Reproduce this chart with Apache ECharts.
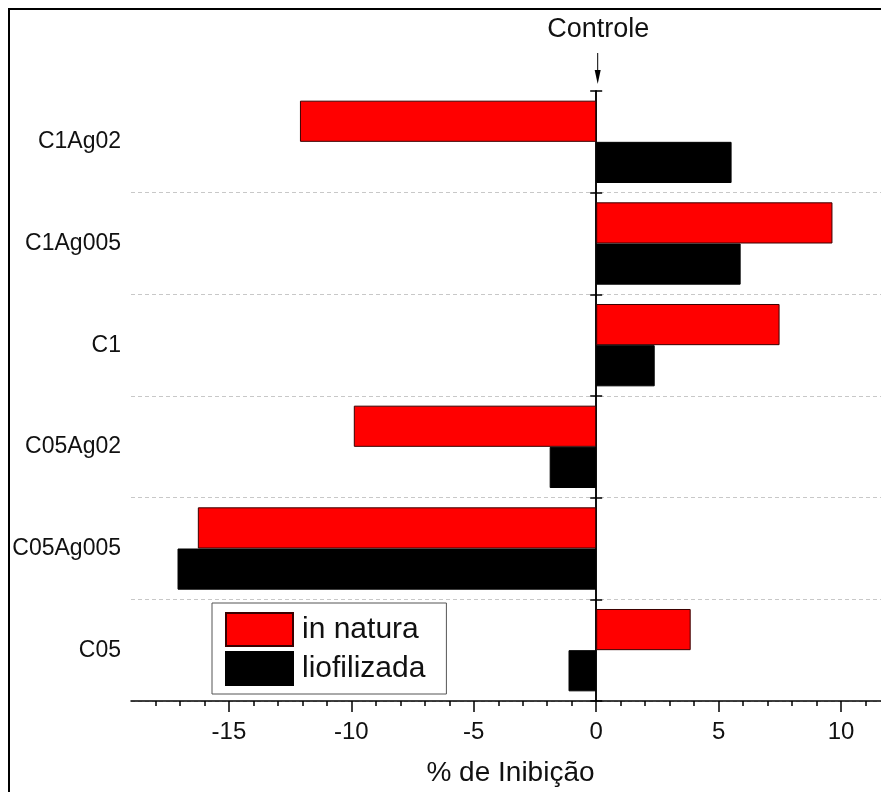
<!DOCTYPE html>
<html>
<head>
<meta charset="utf-8">
<script src="https://cdn.jsdelivr.net/npm/echarts@6/dist/echarts.min.js"></script>
<style>
  html, body { margin: 0; padding: 0; background: #fff; }
  #chart { width: 881px; height: 792px; }
</style>
</head>
<body>
<div id="chart"></div>
<script>
// categories bottom -> top (category axis grows upward)
const categories = ["C05", "C05Ag005", "C05Ag02", "C1", "C1Ag005", "C1Ag02"];
const inNatura = [3.86, -16.27, -9.9, 7.49, 9.65, -12.1];
const liofilizada = [-1.13, -17.1, -1.9, 2.39, 5.9, 5.53];
const majorTicks = [-15, -10, -5, 0, 5, 10];
const minorTicks = [-18, -17, -16, -14, -13, -12, -11, -9, -8, -7, -6, -4, -3, -2, -1, 1, 2, 3, 4, 6, 7, 8, 9, 11];

const font = "'Liberation Sans', Arial, sans-serif";
const chart = echarts.init(document.getElementById("chart"));

// category axis drawn on x = 0, ticks crossing the line on both sides
const zeroAxis = (inside, xIndex) => ({
  type: "category",
  data: categories,
  position: "left",
  axisLine: { show: true, onZero: true, onZeroAxisIndex: xIndex, lineStyle: { color: "#000", width: 1.5 } },
  axisTick: { show: true, inside, length: 6, lineStyle: { color: "#000", width: 1.5 } },
  axisLabel: { show: false },
  splitLine: { show: false }
});

// dashed separators between groups only (none along the top edge)
const splitColors = categories.map(() => "#c8c8c8").concat(["rgba(0,0,0,0)"]);

chart.setOption({
  animation: false,
  textStyle: { fontFamily: font },
  grid: { left: 131, right: -9, top: 91, bottom: 91, outerBoundsMode: "none", containLabel: false },
  legend: {
    data: ["in natura", "liofilizada"],
    orient: "vertical",
    left: 212,
    top: 603,
    itemWidth: 67,
    itemHeight: 33,
    itemGap: 4,
    padding: [9, 21, 8, 13],
    borderColor: "#555",
    borderWidth: 1,
    icon: "rect",
    textStyle: { fontSize: 30, color: "#111", fontFamily: font, padding: [0, 0, 0, 4] }
  },
  xAxis: [
    {
      type: "value",
      min: -19,
      max: 12,
      interval: 1,
      name: "% de Inibição",
      nameLocation: "middle",
      nameGap: 58,
      nameTextStyle: { fontSize: 28, color: "#111" },
      axisLine: { show: true, onZero: false, lineStyle: { color: "#000", width: 1.5 } },
      axisTick: { show: true, length: 5, customValues: minorTicks, lineStyle: { color: "#000", width: 1.5 } },
      axisLabel: { show: true, customValues: majorTicks, margin: 19, fontSize: 24, color: "#111" },
      splitLine: { show: false }
    },
    {
      type: "value",
      min: -19,
      max: 12,
      interval: 1,
      position: "bottom",
      offset: 0,
      axisLine: { show: false, onZero: false },
      axisTick: { show: true, length: 11, customValues: majorTicks, lineStyle: { color: "#000", width: 1.5 } },
      axisLabel: { show: false },
      splitLine: { show: false }
    }
  ],
  yAxis: [
    {
      type: "category",
      data: categories,
      axisLine: { show: false, onZero: false },
      axisTick: { show: false },
      axisLabel: { fontSize: 23, color: "#111", margin: 10 },
      splitLine: {
        show: true,
        lineStyle: { color: splitColors, type: [4, 3], width: 1 }
      }
    },
    zeroAxis(true, 0),
    zeroAxis(false, 1)
  ],
  series: [
    {
      name: "in natura",
      type: "bar",
      data: inNatura,
      barGap: "0%",
      barCategoryGap: "19%",
      itemStyle: { color: "#ff0000", borderColor: "#3a0000", borderWidth: 1 }
    },
    {
      name: "liofilizada",
      type: "bar",
      data: liofilizada,
      barGap: "0%",
      barCategoryGap: "19%",
      itemStyle: { color: "#000", borderColor: "#000", borderWidth: 1 }
    }
  ]
});

// frame and "Controle" marker above the zero line
const x0 = chart.convertToPixel({ xAxisIndex: 0 }, 0);
chart.setOption({
  graphic: [
    { type: "rect", shape: { x: 9, y: 9, width: 900, height: 900 }, style: { fill: null, stroke: "#000", lineWidth: 2 }, silent: true },
    { type: "text", x: x0 + 2, y: 30, style: { text: "Controle", fontSize: 27, fontFamily: font, fill: "#111", align: "center", verticalAlign: "middle" } },
    { type: "line", shape: { x1: x0 + 1.5, y1: 53, x2: x0 + 1.5, y2: 72 }, style: { stroke: "#000", lineWidth: 1 } },
    { type: "polygon", shape: { points: [[x0 - 1.5, 70], [x0 + 4.5, 70], [x0 + 1.5, 84]] }, style: { fill: "#000" } }
  ]
});
</script>
</body>
</html>
